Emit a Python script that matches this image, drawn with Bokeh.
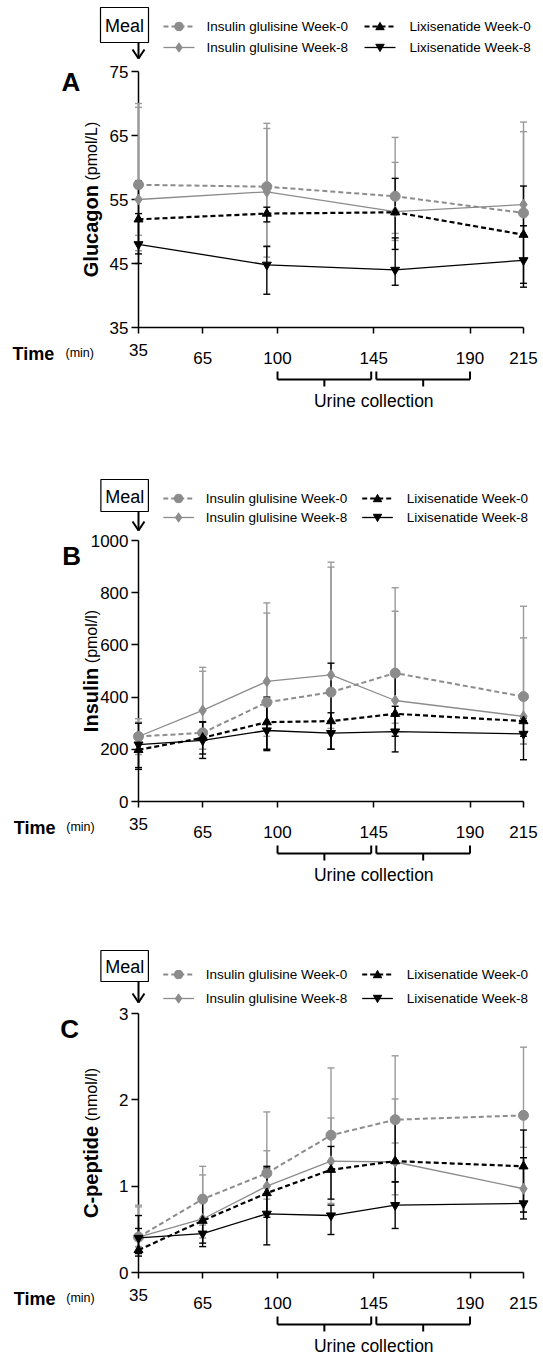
import math
from bokeh.plotting import figure
from bokeh.models import Range1d, FixedTicker, LinearAxis, ColumnDataSource
from bokeh.core.properties import value
from bokeh.layouts import column
from bokeh.embed import file_html
from bokeh.resources import INLINE

FONT = "Liberation Sans"
GRAY = "#8c8c8c"
GRAY_EB = "#9a9a9a"

# ---------------- data ----------------
series_names = ["Insulin glulisine Week-0", "Insulin glulisine Week-8",
                "Lixisenatide Week-0", "Lixisenatide Week-8"]
x_ticks = [35, 65, 100, 145, 190, 215]
urine_windows = [(100, 145), (145, 190)]

# Panel A: Glucagon (pmol/L)
times_A = [35, 95, 155, 215]
glu_ig0 = [57.3, 57.0, 55.5, 52.9]
glu_ig0_hi = [70.0, 66.9, 64.7, 67.1]
glu_ig0_lo = [49.4, 47.6, 49.7, 50.9]
glu_ig8 = [55.0, 56.2, 53.1, 54.2]
glu_ig8_hi = [69.4, 66.1, 60.8, 65.6]
glu_ig8_lo = [47.0, 46.0, 48.6, 49.5]
glu_lx0 = [51.9, 52.8, 53.0, 49.5]
glu_lx0_hi = [57.9, 53.8, 58.3, 57.1]
glu_lx0_lo = [46.5, 51.5, 47.2, 41.9]
glu_lx8 = [48.0, 44.8, 44.0, 45.5]
glu_lx8_hi = [52.8, 47.7, 49.0, 50.9]
glu_lx8_lo = [45.0, 40.2, 41.6, 41.3]
yticks_A = [35, 45, 55, 65, 75]

# Panel B: Insulin (pmol/l)
times_B = [35, 65, 95, 125, 155, 215]
ins_ig0 = [249, 263, 380, 419, 492, 402]
ins_ig0_hi = [304, 499, 722, 898, 819, 748]
ins_ig0_lo = [190, 200, 200, 200, 300, 220]
ins_ig8 = [249, 349, 460, 485, 387, 326]
ins_ig8_hi = [317, 514, 761, 917, 729, 627]
ins_ig8_lo = [180, 200, 250, 280, 250, 220]
ins_lx0 = [198, 244, 304, 308, 336, 308]
ins_lx0_hi = [260, 306, 400, 340, 365, 320]
ins_lx0_lo = [130, 182, 195, 200, 250, 250]
ins_lx8 = [218, 234, 272, 262, 268, 259]
ins_lx8_hi = [300, 304, 390, 530, 480, 310]
ins_lx8_lo = [123, 165, 200, 200, 190, 160]
yticks_B = [0, 200, 400, 600, 800, 1000]

# Panel C: C-peptide (nmol/l)
times_C = [35, 65, 95, 125, 155, 215]
cp_ig0 = [0.41, 0.85, 1.15, 1.59, 1.77, 1.82]
cp_ig0_hi = [0.78, 1.23, 1.86, 2.37, 2.51, 2.61]
cp_ig0_lo = [0.30, 0.55, 0.85, 1.20, 1.50, 1.45]
cp_ig8 = [0.41, 0.62, 1.00, 1.29, 1.28, 0.97]
cp_ig8_hi = [0.76, 1.13, 1.41, 1.79, 2.01, 1.33]
cp_ig8_lo = [0.30, 0.40, 0.70, 0.80, 0.90, 0.70]
cp_lx0 = [0.26, 0.60, 0.92, 1.19, 1.29, 1.23]
cp_lx0_hi = [0.51, 0.85, 1.21, 1.46, 1.75, 1.65]
cp_lx0_lo = [0.19, 0.34, 0.64, 0.85, 1.05, 0.70]
cp_lx8 = [0.40, 0.45, 0.68, 0.66, 0.78, 0.80]
cp_lx8_hi = [0.66, 0.62, 1.23, 0.78, 1.05, 1.33]
cp_lx8_lo = [0.22, 0.30, 0.32, 0.44, 0.51, 0.62]
yticks_C = [0, 1, 2, 3]

STYLES = [
    dict(color=GRAY, eb=GRAY_EB, dash="5 3", lw=2.0, marker="circle", size=10),
    dict(color=GRAY, eb=GRAY_EB, dash="solid", lw=1.3, marker="diamond", size=11),
    dict(color="black", eb="black", dash="5 3", lw=2.2, marker="triangle", size=9),
    dict(color="black", eb="black", dash="solid", lw=1.3, marker="inverted_triangle", size=9),
]

BOLD_W = {"G": 778, "l": 278, "u": 611, "c": 556, "a": 556, "g": 611, "o": 611, "n": 611,
          "I": 278, "s": 556, "i": 278, "C": 722, "-": 333, "p": 611, "e": 556, "t": 333, "d": 611}
REG_W = {"(": 333, ")": 333, "p": 556, "m": 833, "o": 556, "l": 222, "/": 278, "L": 556, "n": 556}

OV = "overlay"


def twidth(s, table, size):
    return sum(table.get(ch, 556) for ch in s) * size / 1000.0


def half_width(kind, dy):
    """Half width (px) of a legend-sample marker at vertical offset dy (px, downwards)."""
    if kind == "circle":
        r = 4.6
        return math.sqrt(max(r * r - dy * dy, 0.0))
    if kind == "diamond":
        return max(3.6 * (1 - abs(dy) / 5.0), 0.0)
    if kind == "triangle":
        return max(4.5 * (dy + 4.6) / 7.8, 0.0)
    return max(4.5 * (4.6 - dy) / 7.8, 0.0)


def marker_span(kind):
    if kind == "circle":
        return (-4.6, 4.6)
    if kind == "diamond":
        return (-5.0, 5.0)
    if kind == "triangle":
        return (-4.6, 3.2)
    return (-3.2, 4.6)


def make_panel(letter, times, series, y0, y1, yticks, lab_bold, lab_unit,
               H, fh, fw, letter_x, letter_base, box_top, box_bot, arrow_tip, leg_rows):
    TOP, LEFT = 71, 138
    sx = fw / 180.0
    sy = fh / float(y1 - y0)

    def X(px):
        return 35 + (px - LEFT) / sx

    def Y(py):
        return y1 - (py - TOP) / sy

    p = figure(width=543, height=H, x_range=Range1d(35, 215), y_range=Range1d(y0, y1),
               output_backend="svg", toolbar_location=None,
               min_border_left=LEFT, min_border_right=543 - LEFT - fw,
               min_border_top=TOP, min_border_bottom=H - TOP - fh)
    p.outline_line_color = None
    p.xgrid.visible = False
    p.ygrid.visible = False
    p.background_fill_color = "white"
    p.border_fill_color = "white"

    xa = p.xaxis[0]
    xa.ticker = FixedTicker(ticks=x_ticks)
    xa.major_label_overrides = {t: ("" if t != 35 else "35") for t in x_ticks}
    xa.major_tick_out = 6
    xa.major_tick_in = 0
    xa.minor_tick_line_color = None
    xa.axis_line_width = 1.5
    xa.major_tick_line_width = 1.5
    xa.major_label_text_font = FONT
    xa.major_label_text_font_size = "17px"
    xa.major_label_text_color = "black"
    xa.major_label_standoff = 10

    xa2 = LinearAxis(ticker=FixedTicker(ticks=x_ticks[1:]))
    xa2.axis_line_color = None
    xa2.major_tick_line_color = None
    xa2.minor_tick_line_color = None
    xa2.major_tick_out = 0
    xa2.major_tick_in = 0
    xa2.major_label_text_font = FONT
    xa2.major_label_text_font_size = "17px"
    xa2.major_label_text_color = "black"
    xa2.major_label_standoff = -7
    p.add_layout(xa2, "below")

    ya = p.yaxis[0]
    ya.ticker = FixedTicker(ticks=yticks)
    ya.major_tick_out = 7
    ya.major_tick_in = 0
    ya.minor_tick_line_color = None
    ya.axis_line_width = 1.5
    ya.major_tick_line_width = 1.5
    ya.major_label_text_font = FONT
    ya.major_label_text_font_size = "17px"
    ya.major_label_text_color = "black"
    ya.major_label_standoff = 3

    sources = []
    for (m, lo, hi) in series:
        sources.append(ColumnDataSource(dict(x=times, y=m, lo=lo, hi=hi)))

    rends = []
    for src, st in zip(sources, STYLES):
        rends.append(p.segment(x0="x", y0="lo", x1="x", y1="hi", source=src,
                               line_color=st["eb"], line_width=1.4))
        rends.append(p.scatter(x="x", y="lo", marker="dash", size=7, source=src,
                               line_color=st["eb"], line_width=1.4))
        rends.append(p.scatter(x="x", y="hi", marker="dash", size=7, source=src,
                               line_color=st["eb"], line_width=1.4))
    for src, st in zip(sources, STYLES):
        rends.append(p.line(x="x", y="y", source=src, line_color=st["color"],
                            line_width=st["lw"], line_dash=st["dash"]))
        rends.append(p.scatter(x="x", y="y", source=src, marker=st["marker"], size=st["size"],
                               fill_color=st["color"], line_color=st["color"]))

    # legend (drawn with glyphs so it can sit above the frame)
    g_x0 = [163, 364]
    g_len = 31
    l_x = [206, 409]
    for i, (st, name) in enumerate(zip(STYLES, series_names)):
        c, r = i // 2, i % 2
        py = leg_rows[r]
        rends.append(p.segment(x0=[X(g_x0[c])], y0=[Y(py)], x1=[X(g_x0[c] + g_len)], y1=[Y(py)],
                               line_color=st["color"], line_width=st["lw"], line_dash=st["dash"]))
        cx = g_x0[c] + g_len / 2.0
        d0, d1 = marker_span(st["marker"])
        n = int(round((d1 - d0) / 0.5)) + 1
        dys = [d0 + k * (d1 - d0) / (n - 1) for k in range(n)]
        hws = [half_width(st["marker"], dy) for dy in dys]
        rends.append(p.segment(x0=[X(cx - hw) for hw in hws], y0=[Y(py + dy) for dy in dys],
                               x1=[X(cx + hw) for hw in hws], y1=[Y(py + dy) for dy in dys],
                               line_color=st["color"], line_width=1.0))
        rends.append(p.text(x=[X(l_x[c])], y=[Y(py)], text=[name], text_font=value(FONT),
                            text_font_size="13.5px", text_color="black",
                            text_align="left", text_baseline="middle"))

    # panel letter
    rends.append(p.text(x=[X(letter_x)], y=[Y(letter_base)], text=[letter], text_font=value(FONT),
                        text_font_style="bold", text_font_size="26px", text_color="black",
                        text_align="left", text_baseline="alphabetic"))
    # meal box + arrow
    rends.append(p.quad(left=[X(100)], right=[X(148)], top=[Y(box_top)], bottom=[Y(box_bot)],
                        fill_color="white", line_color="black", line_width=1.2))
    rends.append(p.text(x=[X(124)], y=[Y((box_top + box_bot) / 2.0 + 1)], text=["Meal"],
                        text_font=value(FONT), text_font_size="18px", text_color="black",
                        text_align="center", text_baseline="middle"))
    ax = X(LEFT)
    rends.append(p.segment(x0=[ax, X(LEFT - 6), X(LEFT + 6)],
                           y0=[Y(box_bot), Y(arrow_tip - 9), Y(arrow_tip - 9)],
                           x1=[ax, ax, ax], y1=[Y(arrow_tip), Y(arrow_tip), Y(arrow_tip)],
                           line_color="black", line_width=2))

    # y axis label (bold name + regular unit)
    w1 = twidth(lab_bold, BOLD_W, 20)
    w2 = twidth(lab_unit, REG_W, 16)
    gap = 4.5
    cy = TOP + fh / 2.0
    yb = cy + (w1 + gap + w2) / 2.0
    rends.append(p.text(x=[X(90.5)], y=[Y(yb)], text=[lab_bold], angle=math.pi / 2,
                        text_font=value(FONT), text_font_style="bold", text_font_size="20px",
                        text_color="black", text_align="left", text_baseline="alphabetic"))
    rends.append(p.text(x=[X(90.5)], y=[Y(yb - w1 - gap)], text=[lab_unit], angle=math.pi / 2,
                        text_font=value(FONT), text_font_size="16px", text_color="black",
                        text_align="left", text_baseline="alphabetic"))

    # Time (min)
    fb = TOP + fh
    rends.append(p.text(x=[X(12)], y=[Y(fb + 26)], text=["Time"], text_font=value(FONT),
                        text_font_style="bold", text_font_size="18px", text_color="black",
                        text_align="left", text_baseline="alphabetic"))
    rends.append(p.text(x=[X(65)], y=[Y(fb + 25)], text=["(min)"], text_font=value(FONT),
                        text_font_size="12.5px", text_color="black",
                        text_align="left", text_baseline="alphabetic"))

    # urine collection brackets
    bx0, bx1, by0, by1 = [], [], [], []
    for k, (a, b) in enumerate(urine_windows):
        xa_ = a + (1.2 if k > 0 else 0)
        xb_ = b - (1.2 if k < len(urine_windows) - 1 else 0)
        xm = (xa_ + xb_) / 2.0
        for (x0_, p0, x1_, p1) in [(xa_, fb + 44, xa_, fb + 52), (xa_, fb + 52, xb_, fb + 52),
                                   (xb_, fb + 52, xb_, fb + 44), (xm, fb + 52, xm, fb + 59)]:
            bx0.append(x0_); by0.append(Y(p0)); bx1.append(x1_); by1.append(Y(p1))
    rends.append(p.segment(x0=bx0, y0=by0, x1=bx1, y1=by1, line_color="black", line_width=2))
    rends.append(p.text(x=[(urine_windows[0][0] + urine_windows[-1][1]) / 2.0], y=[Y(fb + 73)],
                        text=["Urine collection"], text_font=value(FONT), text_font_size="17.5px",
                        text_color="black", text_align="center", text_baseline="alphabetic"))
    for r in rends:
        r.level = OV
    return p


pA = make_panel("A", times_A,
                [(glu_ig0, glu_ig0_lo, glu_ig0_hi), (glu_ig8, glu_ig8_lo, glu_ig8_hi),
                 (glu_lx0, glu_lx0_lo, glu_lx0_hi), (glu_lx8, glu_lx8_lo, glu_lx8_hi)],
                35, 75, yticks_A, "Glucagon", "(pmol/L)",
                H=469, fh=256, fw=385, letter_x=61, letter_base=81,
                box_top=7, box_bot=42, arrow_tip=58, leg_rows=[26, 47])
pB = make_panel("B", times_B,
                [(ins_ig0, ins_ig0_lo, ins_ig0_hi), (ins_ig8, ins_ig8_lo, ins_ig8_hi),
                 (ins_lx0, ins_lx0_lo, ins_lx0_hi), (ins_lx8, ins_lx8_lo, ins_lx8_hi)],
                0, 1000, yticks_B, "Insulin", "(pmol/l)",
                H=473, fh=261, fw=389, letter_x=61, letter_base=86,
                box_top=10, box_bot=42, arrow_tip=61, leg_rows=[29, 48])
pC = make_panel("C", times_C,
                [(cp_ig0, cp_ig0_lo, cp_ig0_hi), (cp_ig8, cp_ig8_lo, cp_ig8_hi),
                 (cp_lx0, cp_lx0_lo, cp_lx0_hi), (cp_lx8, cp_lx8_lo, cp_lx8_hi)],
                0, 3, yticks_C, "C-peptide", "(nmol/l)",
                H=413, fh=259, fw=389, letter_x=59, letter_base=86,
                box_top=8, box_bot=39, arrow_tip=60, leg_rows=[32, 56])

layout = column(pA, pB, pC, spacing=0)
open("out.html", "w").write(file_html(layout, INLINE))
